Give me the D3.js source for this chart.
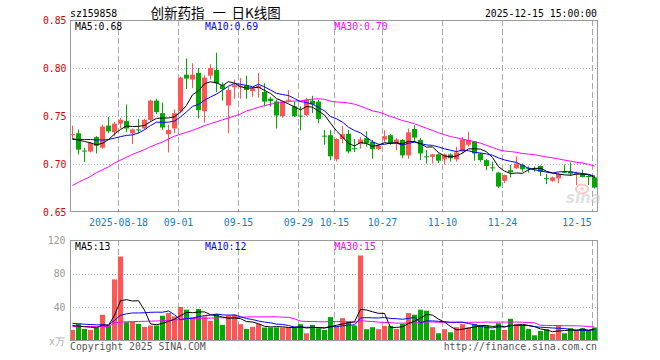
<!DOCTYPE html>
<html>
<head>
<meta charset="utf-8">
<script src="https://cdn.jsdelivr.net/npm/d3@7"></script>
<style>
  html, body { margin: 0; padding: 0; background: #fff; }
  svg { display: block; }
  text { font-family: "DejaVu Sans Mono", "Liberation Mono", monospace; font-size: 9.8px; }
</style>
</head>
<body>
<svg id="chart" width="660" height="360"></svg>
<script>
// 1) Data (read off the reference picture)
const dates = [
  "2025-08-06","2025-08-07","2025-08-08","2025-08-11","2025-08-12","2025-08-13","2025-08-14","2025-08-15",
  "2025-08-18","2025-08-19","2025-08-20","2025-08-21","2025-08-22","2025-08-25","2025-08-26","2025-08-27",
  "2025-08-28","2025-08-29","2025-09-01","2025-09-02","2025-09-03","2025-09-04","2025-09-05","2025-09-08",
  "2025-09-09","2025-09-10","2025-09-11","2025-09-12","2025-09-15","2025-09-16","2025-09-17","2025-09-18",
  "2025-09-19","2025-09-22","2025-09-23","2025-09-24","2025-09-25","2025-09-26","2025-09-29","2025-09-30",
  "2025-10-09","2025-10-10","2025-10-13","2025-10-14","2025-10-15","2025-10-16","2025-10-17","2025-10-20",
  "2025-10-21","2025-10-22","2025-10-23","2025-10-24","2025-10-27","2025-10-28","2025-10-29","2025-10-30",
  "2025-10-31","2025-11-03","2025-11-04","2025-11-05","2025-11-06","2025-11-07","2025-11-10","2025-11-11",
  "2025-11-12","2025-11-13","2025-11-14","2025-11-17","2025-11-18","2025-11-19","2025-11-20","2025-11-21",
  "2025-11-24","2025-11-25","2025-11-26","2025-11-27","2025-11-28","2025-12-01","2025-12-02","2025-12-03",
  "2025-12-04","2025-12-05","2025-12-08","2025-12-09","2025-12-10","2025-12-11","2025-12-12","2025-12-15"
];

const opens = [
  0.730,0.732,0.714,0.713,0.728,0.717,0.740,0.733,0.742,0.745,
  0.732,0.736,0.737,0.746,0.766,0.753,0.731,0.737,0.755,0.793,
  0.788,0.795,0.755,0.792,0.798,0.782,0.761,0.780,0.781,0.782,
  0.776,0.779,0.775,0.768,0.765,0.750,0.766,0.760,0.7505,0.751,
  0.766,0.765,0.7295,0.730,0.705,0.726,0.7315,0.7165,0.721,0.727,
  0.723,0.7155,0.7255,0.730,0.7215,0.725,0.709,0.7365,0.725,0.708,
  0.7075,0.710,0.705,0.710,0.705,0.713,0.720,0.7235,0.711,0.704,
  0.6965,0.691,0.6825,0.6935,0.6955,0.699,0.696,0.6955,0.698,0.6855,
  0.6825,0.685,0.692,0.692,0.690,0.6895,0.6875,0.686
];
const highs = [
  0.740,0.736,0.717,0.723,0.729,0.741,0.749,0.744,0.748,0.762,
  0.737,0.747,0.747,0.767,0.768,0.764,0.741,0.757,0.791,0.810,
  0.805,0.800,0.7925,0.804,0.816,0.785,0.780,0.788,0.7895,0.792,
  0.780,0.795,0.784,0.770,0.767,0.766,0.777,0.765,0.760,0.769,
  0.771,0.767,0.7355,0.7355,0.727,0.740,0.7355,0.726,0.728,0.734,
  0.725,0.721,0.735,0.731,0.727,0.726,0.737,0.7405,0.727,0.7145,
  0.7105,0.711,0.711,0.711,0.718,0.728,0.7335,0.724,0.7115,0.705,
  0.7025,0.692,0.689,0.699,0.708,0.7005,0.6975,0.6975,0.6985,0.6895,
  0.687,0.691,0.6995,0.7015,0.692,0.694,0.689,0.688
];
const lows = [
  0.726,0.710,0.702,0.712,0.711,0.716,0.732,0.729,0.737,0.733,
  0.721,0.732,0.736,0.744,0.752,0.7355,0.712,0.732,0.753,0.778,
  0.779,0.7475,0.743,0.788,0.775,0.766,0.732,0.768,0.768,0.768,
  0.770,0.769,0.760,0.760,0.737,0.748,0.764,0.749,0.735,0.750,
  0.753,0.7425,0.720,0.704,0.7025,0.7215,0.711,0.7125,0.716,0.718,
  0.7055,0.7145,0.723,0.720,0.7145,0.706,0.7055,0.723,0.704,0.7005,
  0.7005,0.701,0.6995,0.7025,0.7025,0.711,0.718,0.7035,0.7025,0.6935,
  0.6925,0.675,0.680,0.686,0.695,0.692,0.691,0.692,0.6875,0.679,
  0.6815,0.680,0.6905,0.6875,0.678,0.686,0.678,0.6745
];
const closes = [
  0.731,0.715,0.713,0.722,0.719,0.739,0.734,0.742,0.746,0.737,
  0.736,0.7355,0.746,0.766,0.754,0.738,0.7355,0.753,0.790,0.789,
  0.793,0.756,0.790,0.800,0.784,0.778,0.777,0.782,0.7815,0.777,
  0.779,0.781,0.765,0.7655,0.7505,0.765,0.767,0.750,0.750,0.767,
  0.762,0.747,0.729,0.708,0.726,0.731,0.713,0.716,0.7255,0.7215,
  0.7155,0.7195,0.729,0.7215,0.7255,0.709,0.733,0.7275,0.711,0.7075,
  0.710,0.7035,0.710,0.706,0.712,0.7255,0.725,0.711,0.704,0.698,
  0.696,0.6765,0.6885,0.6915,0.7005,0.6945,0.6955,0.695,0.692,0.685,
  0.686,0.6895,0.691,0.690,0.6905,0.6865,0.687,0.6755
];
// volume in 万
const volumes = [
  13.2,20.4,14.4,13.2,16.4,31.2,18.4,73.2,100.4,22.4,
  23.2,20.4,16.8,18.4,18.4,30,33.2,29.2,40.4,37.2,
  28,38,29.2,24,32,19.2,30.4,31.2,20,14.4,
  16.8,20.4,16,16,16,16,16,16,20,9.2,
  19.2,15.2,13.2,28.4,17.2,27.2,23.2,18.4,101.6,14,
  16.4,14,18,18,14.4,20.4,33.2,31.2,37.2,36,
  16.4,9.2,14,10.4,16.4,20,16,20,18.4,18,
  13.2,21.2,13.2,26.4,20,18.4,14.4,6.8,12,14,
  8.4,18.4,9.2,15.2,12.4,15.2,12.4,16
];

// MA values at the left edge (their earlier sessions are off the chart)
const ma5Head = [0.7265,0.725,0.7235,0.722];
const ma10Head = [0.7255,0.7255,0.7255,0.7255,0.725,0.725,0.7255,0.727,0.7285];
const ma30Head = [
  0.6775,0.681,0.684,0.687,0.691,0.694,0.697,0.701,0.704,0.707,
  0.710,0.7125,0.715,0.718,0.7205,0.723,0.726,0.729,0.731,0.733,
  0.735,0.7375,0.740,0.742,0.744,0.746,0.748,0.750,0.752
];
const vma5Head = [18.4,17.6,17,16.4];
const vma10Head = [20.8,20.4,20,19.6,19.2,19.2,18.8,24.5,30.5];
const vma30Head = [
  17.2,17.2,17.2,17.2,17.2,17.2,17.2,21.5,22.5,22.8,
  23,23.2,23.4,23.6,23.8,24,24.5,25,25.5,26.5,
  27,27,27,27.2,27.4,27.6,27.8,28,28.2
];

const priceTicks = [0.85, 0.80, 0.75, 0.70, 0.65];
const volTicks = [120, 80, 40];
const dateTicks = ["2025-08-18","2025-09-01","2025-09-15","2025-09-29","2025-10-15","2025-10-27","2025-11-10","2025-11-24","2025-12-15"];
const dateTickLabels = ["2025-08-18","09-01","09-15","09-29","10-15","10-27","11-10","11-24","12-15"];
const titleParts = ["创新药指", "一", "日K线图"];

// 2) Setup
const svg = d3.select("#chart");
const RED = "#ff5555", GREEN = "#00a800", GRID = "#aaaaaa", FRAME = "#9a9a9a";
const left = 70, right = 597;

const x = d3.scaleBand().domain(dates).range([69.5, 597.5]).padding(0);
const cx = d => x(d) + 3;
const y = d3.scaleLinear().domain([0.65, 0.85]).range([212, 20]);
const yv = d3.scaleLinear().domain([0, 120]).range([341, 240]);

function movingAvg(values, n, head) {
  return values.map((v, i) => i < head.length ? head[i] : d3.mean(values.slice(i - n + 1, i + 1)));
}

const rows = dates.map((d, i) => ({
  date: d, o: opens[i], h: highs[i], l: lows[i], c: closes[i], v: volumes[i],
  up: closes[i] >= opens[i]
}));

svg.append("defs").append("clipPath").attr("id", "clipP")
  .append("rect").attr("x", left).attr("y", 20).attr("width", right - left).attr("height", 192);
svg.select("defs").append("clipPath").attr("id", "clipV")
  .append("rect").attr("x", left).attr("y", 240).attr("width", right - left).attr("height", 101);

// 3) Grids
function hGrid(vals, scale) {
  svg.append("g").selectAll("line").data(vals).join("line")
    .attr("x1", left).attr("x2", right)
    .attr("y1", d => Math.round(scale(d)) + 0.5).attr("y2", d => Math.round(scale(d)) + 0.5)
    .attr("stroke", GRID).attr("stroke-dasharray", "1,2");
}
hGrid([0.80, 0.75, 0.70], y);
hGrid([80, 40], yv);

[[20, 212], [240, 341]].forEach(([t, b]) => {
  svg.append("g").selectAll("line").data(dateTicks).join("line")
    .attr("x1", d => x(d) + 1).attr("x2", d => x(d) + 1)
    .attr("y1", t).attr("y2", b)
    .attr("stroke", GRID).attr("stroke-dasharray", "6,3");
});

// 4) Candles
const candles = svg.append("g").attr("clip-path", "url(#clipP)");
candles.selectAll("line").data(rows).join("line")
  .attr("x1", d => cx(d.date)).attr("x2", d => cx(d.date))
  .attr("y1", d => y(d.h)).attr("y2", d => y(d.l))
  .attr("stroke", d => d.up ? RED : GREEN);
candles.selectAll("rect").data(rows).join("rect")
  .attr("x", d => x(d.date) + 0.5).attr("width", 5)
  .attr("y", d => y(Math.max(d.o, d.c)))
  .attr("height", d => Math.max(1, y(Math.min(d.o, d.c)) - y(Math.max(d.o, d.c))))
  .attr("fill", d => d.up ? RED : GREEN);

// 5) Volume bars
svg.append("g").selectAll("rect").data(rows).join("rect")
  .attr("x", d => x(d.date) + 0.5).attr("width", 5)
  .attr("y", d => yv(d.v)).attr("height", d => yv(0) - yv(d.v))
  .attr("fill", d => d.up ? RED : GREEN);

// 6) Moving averages
function maLine(vals, scale, color, clip) {
  const line = d3.line().x((v, i) => cx(dates[i])).y(v => scale(v));
  svg.append("path").datum(vals)
    .attr("d", line).attr("fill", "none")
    .attr("stroke", color).attr("stroke-width", 1)
    .attr("clip-path", clip);
}
maLine(movingAvg(closes, 30, ma30Head), y, "#ff00ff", "url(#clipP)");
maLine(movingAvg(closes, 10, ma10Head), y, "#0000ff", "url(#clipP)");
maLine(movingAvg(closes, 5, ma5Head), y, "#000000", "url(#clipP)");
maLine(movingAvg(volumes, 30, vma30Head), yv, "#ff00ff", "url(#clipV)");
maLine(movingAvg(volumes, 10, vma10Head), yv, "#0000ff", "url(#clipV)");
maLine(movingAvg(volumes, 5, vma5Head), yv, "#000000", "url(#clipV)");

// 7) Frames
svg.append("rect").attr("x", left + 0.5).attr("y", 20.5).attr("width", right - left).attr("height", 191)
  .attr("fill", "none").attr("stroke", FRAME);
svg.append("rect").attr("x", left + 0.5).attr("y", 240.5).attr("width", right - left).attr("height", 100)
  .attr("fill", "none").attr("stroke", FRAME);

// 8) Axis labels
svg.append("g").selectAll("text").data(priceTicks).join("text")
  .attr("x", 66.5).attr("y", d => y(d) + 3.8)
  .attr("text-anchor", "end").attr("fill", "#e00000")
  .text(d => d.toFixed(2));

svg.append("g").selectAll("text").data(volTicks).join("text")
  .attr("x", 65.5).attr("y", d => yv(d) + 3.8)
  .attr("text-anchor", "end").attr("fill", "#999")
  .text(d => d);
svg.append("text").attr("x", 49).attr("y", 345).attr("fill", "#aaa").text("x万");

svg.append("g").selectAll("text").data(dateTicks).join("text")
  .attr("x", d => Math.min(x(d) + 1, 577))
  .attr("y", 225.5)
  .attr("text-anchor", "middle").attr("fill", "#0a7fd8")
  .text((d, i) => dateTickLabels[i]);

// 9) Header + legends
svg.append("text").attr("x", 70).attr("y", 16.5).attr("fill", "#000").text("sz159858");
const titleX = [150.5, 212.5, 231.5];
svg.append("g").selectAll("text").data(titleParts).join("text")
  .attr("x", (d, i) => titleX[i]).attr("y", 18)
  .style("font-family", "'Noto Sans CJK SC', sans-serif").style("font-size", "13.5px")
  .text(d => d);
svg.append("text").attr("x", 597).attr("y", 16.5).attr("text-anchor", "end").text("2025-12-15 15:00:00");

const legends = [["MA5:0.68", "MA5:13", "#000"], ["MA10:0.69", "MA10:12", "#0000ff"], ["MA30:0.70", "MA30:15", "#ff00ff"]];
const legendX = [75, 205, 334.5];
legends.forEach(([p, v, c], i) => {
  svg.append("text").attr("x", legendX[i]).attr("y", 29.5).attr("fill", c).text(p);
  svg.append("text").attr("x", legendX[i]).attr("y", 250).attr("fill", c).text(v);
});

// 10) Footer + watermark
svg.append("text").attr("x", 70).attr("y", 349.5).attr("fill", "#555").text("Copyright 2025 SINA.COM");
svg.append("text").attr("x", 597).attr("y", 349.5).attr("text-anchor", "end").attr("fill", "#555").text("http://finance.sina.com.cn");

const wm = svg.append("g").attr("opacity", 0.55);
wm.append("ellipse").attr("cx", 582).attr("cy", 189).attr("rx", 6).attr("ry", 4.5)
  .attr("fill", "none").attr("stroke", "#f3a0a0").attr("stroke-width", 2);
wm.append("circle").attr("cx", 582).attr("cy", 189).attr("r", 1.8).attr("fill", "#f3a0a0");
wm.append("text").attr("x", 566).attr("y", 203)
  .style("font-family", "'DejaVu Sans', sans-serif").style("font-size", "15px")
  .style("font-style", "italic").style("font-weight", "bold")
  .attr("fill", "#c8c8c8").text("sina");
</script>
</body>
</html>
